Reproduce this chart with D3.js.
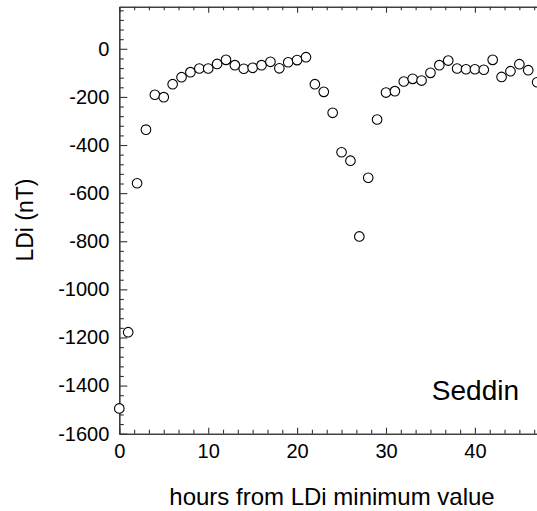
<!DOCTYPE html>
<html>
<head>
<meta charset="utf-8">
<script src="https://cdn.jsdelivr.net/npm/d3@7"></script>
<style>
  body { margin: 0; background: #fff; }
  svg { display: block; font-family: "Liberation Sans", Arial, sans-serif; }
  .axis path, .axis line { stroke: #333; stroke-width: 1.1; }
  .axis text { fill: #000; font-size: 20px; }
</style>
</head>
<body>
<div id="chart"></div>
<script>
var chart_width = 537;
var chart_height = 511;

// hours from LDi minimum, LDi values (nT)
var hours = d3.range(0, 48);
var ldi = [-1495, -1178, -559, -336, -191, -201, -147, -118, -97, -82,
           -82, -63, -46, -68, -83, -79, -68, -54, -81, -56,
           -47, -35, -147, -179, -266, -430, -465, -780, -536, -294,
           -182, -176, -136, -125, -132, -100, -68, -49, -82, -85,
           -85, -87, -46, -117, -93, -64, -89, -139];

var x_major = [0, 10, 20, 30, 40];
var y_major = [-1600, -1400, -1200, -1000, -800, -600, -400, -200, 0];
var station = 'Seddin';
var x_title = 'hours from LDi minimum value';
var y_title = 'LDi (nT)';

var left = 119.3, top_ = 6.7, bottom = 433.7;

var svg = d3.select('#chart')
            .append('svg')
            .attr('width', chart_width)
            .attr('height', chart_height);

var x_scale = d3.scaleLinear()
                .domain([0, 48])
                .range([left, left + 48 * 8.89]);

var y_scale = d3.scaleLinear()
                .domain([-1600, 175])
                .range([bottom, top_]);

// minor tick positions
var x_minor = d3.range(0, 49, 10 / 6).filter((d) => {
    return Math.abs(d / 10 - Math.round(d / 10)) > 0.01;
});
var y_minor = d3.range(-1600, 176, 40).filter((d) => {
    return d % 200 !== 0;
});

// plain hyphen minus like the original
var fmt = (d) => {
    return String(d);
};

// bottom axis
svg.append('g')
    .attr('class', 'axis')
    .attr('transform', 'translate(0,' + bottom + ')')
    .call(d3.axisBottom(x_scale).tickValues(x_minor).tickFormat('').tickSizeInner(-4).tickSizeOuter(0));
svg.append('g')
    .attr('class', 'axis')
    .attr('transform', 'translate(0,' + bottom + ')')
    .call(d3.axisBottom(x_scale).tickValues(x_major).tickFormat(fmt).tickSizeInner(-6).tickSizeOuter(0).tickPadding(10))
    .selectAll('text').attr('dy', '0.71em');

// top axis
svg.append('g')
    .attr('class', 'axis')
    .attr('transform', 'translate(0,' + top_ + ')')
    .call(d3.axisTop(x_scale).tickValues(x_minor).tickFormat('').tickSizeInner(-3.5).tickSizeOuter(0));
svg.append('g')
    .attr('class', 'axis')
    .attr('transform', 'translate(0,' + top_ + ')')
    .call(d3.axisTop(x_scale).tickValues(x_major).tickFormat('').tickSizeInner(-6).tickSizeOuter(0));

// left axis
svg.append('g')
    .attr('class', 'axis')
    .attr('transform', 'translate(' + left + ',0)')
    .call(d3.axisLeft(y_scale).tickValues(y_minor).tickFormat('').tickSizeInner(-4.5).tickSizeOuter(0));
svg.append('g')
    .attr('class', 'axis')
    .attr('transform', 'translate(' + left + ',0)')
    .call(d3.axisLeft(y_scale).tickValues(y_major).tickFormat(fmt).tickSizeInner(-8).tickSizeOuter(0).tickPadding(10));

// points
svg.selectAll('circle')
    .data(hours)
    .enter()
    .append('circle')
    .attr('cx', (d) => {
        return x_scale(d);
    })
    .attr('cy', (d, i) => {
        return y_scale(ldi[i]);
    })
    .attr('r', 4.8)
    .attr('fill', '#fff')
    .attr('stroke', '#000')
    .attr('stroke-width', 1.1);

// labels
svg.append('text')
    .attr('x', 519)
    .attr('y', 400)
    .attr('text-anchor', 'end')
    .style('font-size', '28px')
    .text(station);

svg.append('text')
    .attr('x', (169 + 495) / 2)
    .attr('y', 505)
    .attr('text-anchor', 'middle')
    .style('font-size', '24px')
    .text(x_title);

svg.append('text')
    .attr('transform', 'translate(33,220) rotate(-90)')
    .attr('text-anchor', 'middle')
    .style('font-size', '23px')
    .text(y_title);
</script>
</body>
</html>
